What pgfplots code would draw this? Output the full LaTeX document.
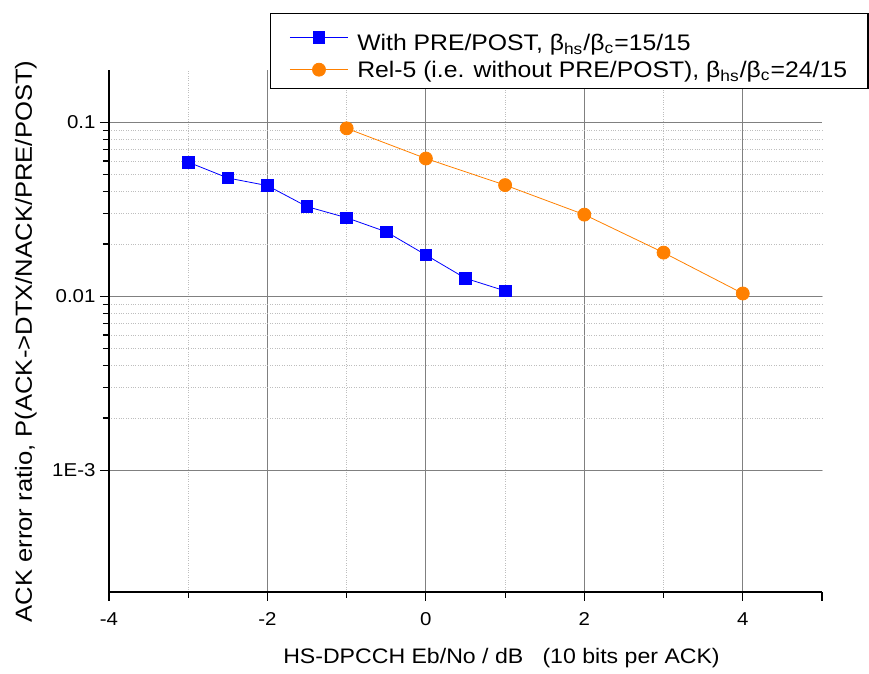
\documentclass[border=0pt]{standalone}
\usepackage{fontspec}
\setmainfont{Liberation Sans}[FakeStretch=1.1]
\usepackage{pgfplots}
\pgfplotsset{compat=1.18}
\definecolor{bluep}{RGB}{0,0,255}
\definecolor{orangep}{RGB}{255,128,0}
\definecolor{majgrid}{RGB}{128,128,128}
\definecolor{mingrid}{RGB}{190,190,190}
\begin{document}
\begin{tikzpicture}
\begin{axis}[
  name=ax,
  scale only axis,
  width=713pt, height=522pt,
  xmin=-4, xmax=5,
  ymode=log, ymin=2e-4, ymax=0.2,
  axis x line=bottom, axis y line=left,
  axis line style={-, line width=1.6pt, black},
  tick align=outside,
  tick style={black, line width=1.2pt},
  major tick length=9pt, minor tick length=6pt,
  xtick={-4,-2,0,2,4},
  xticklabels={-4,-2,0,2,4},
  minor xtick={-3,-1,1,3},
  extra x ticks={5}, extra x tick labels={},
  extra x tick style={grid=none, major tick length=9pt},
  ytick={0.001,0.01,0.1},
  yticklabels={1E-3,0.01,0.1},
  /pgf/number format/assume math mode=true,
  xmajorgrids, xminorgrids, ymajorgrids, yminorgrids,
  major grid style={majgrid, line width=0.8pt},
  minor grid style={mingrid, dotted, line width=0.8pt},
  ticklabel style={font=\fontsize{18.6}{22}\selectfont},
  xticklabel style={yshift=-8pt},
  yticklabel style={xshift=-1pt},
  xlabel={HS-DPCCH Eb/No / dB \ \ (10 bits per ACK)},
  ylabel={ACK error ratio, P(ACK->DTX/NACK/PRE/POST)},
  xlabel style={at={(axis description cs:0.5505,-0.136)}, anchor=base, font=\fontsize{21}{25}\selectfont},
  ylabel style={at={(axis description cs:-0.108,0.48)}, anchor=base, font=\fontsize{23.3}{27}\selectfont},
  legend style={at={(axis description cs:0.2258,1.1098)}, anchor=north west,
    draw=black, line width=1.2pt, fill=white,
    font=\fontsize{22.5}{26}\selectfont,
    inner xsep=19pt, inner ysep=8pt, row sep=5pt,
    cells={anchor=west}},
  legend image code/.code={\draw[mark repeat=2,mark phase=2] plot coordinates {(0pt,0pt) (29pt,0pt) (58pt,0pt)};},
  legend cell align=left,
  clip=false,
]
\addplot[bluep, line width=0.8pt, mark=square*, mark size=5.8pt, mark options={solid, fill=bluep, draw=bluep}]
coordinates {(-3,0.0591) (-2.5,0.0479) (-2,0.0433) (-1.5,0.0328) (-1,0.0283) (-0.5,0.0235) (0,0.0173) (0.5,0.0127) (1,0.01076)};
\addlegendentry{\rule{0pt}{27pt}\ With PRE/POST, β\textsubscript{hs}\kern0.6pt/β\textsubscript{c}\kern0.6pt=15/15\hspace{3em}}
\addplot[orangep, line width=0.8pt, mark=*, mark size=6.5pt, mark options={solid, fill=orangep, draw=orangep}]
coordinates {(-1,0.0924) (0,0.0620) (1,0.0436) (2,0.0295) (3,0.01784) (4,0.01039)};
\addlegendentry{\ Rel-5 (i.e. without PRE/POST), β\textsubscript{hs}\kern0.6pt/β\textsubscript{c}\kern0.6pt=24/15\hspace{3em}}
\end{axis}
\pgfresetboundingbox
\path[use as bounding box] ([xshift=-109pt,yshift=-81pt]ax.south west) rectangle ++(869pt,673pt);
\end{tikzpicture}
\end{document}
